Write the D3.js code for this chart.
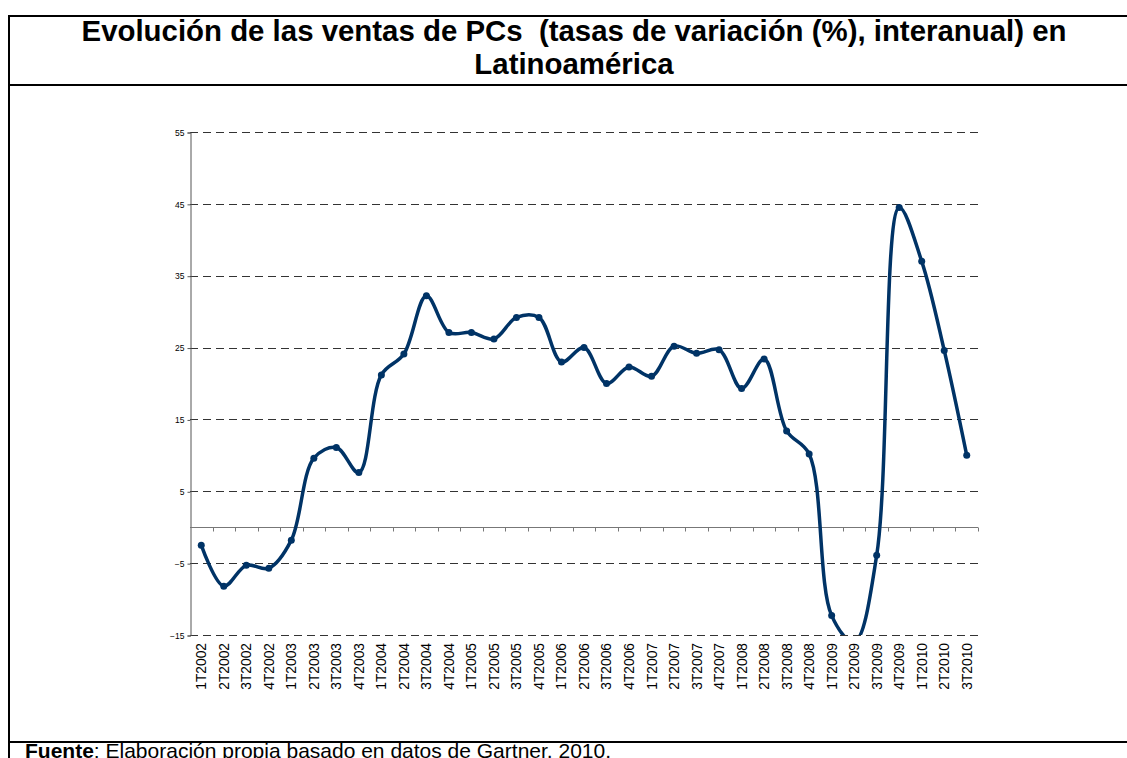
<!DOCTYPE html>
<html>
<head>
<meta charset="utf-8">
<script src="https://cdn.jsdelivr.net/npm/d3@7"></script>
<style>
  html, body { margin: 0; padding: 0; background: #fff; }
  svg { display: block; font-family: "Liberation Sans", Arial, sans-serif; }
  .title { white-space: pre; }
</style>
</head>
<body>
<svg id="chart" width="1127" height="758"></svg>
<script>
const categories = [
  "1T2002","2T2002","3T2002","4T2002",
  "1T2003","2T2003","3T2003","4T2003",
  "1T2004","2T2004","3T2004","4T2004",
  "1T2005","2T2005","3T2005","4T2005",
  "1T2006","2T2006","3T2006","4T2006",
  "1T2007","2T2007","3T2007","4T2007",
  "1T2008","2T2008","3T2008","4T2008",
  "1T2009","2T2009","3T2009","4T2009",
  "1T2010","2T2010","3T2010"
];
const values = [
  -2.5, -8.2, -5.3, -5.7,
  -1.8, 9.6, 11.1, 7.6,
  21.2, 24.1, 32.2, 27.1,
  27.1, 26.2, 29.2, 29.2,
  23.0, 25.0, 20.0, 22.3,
  21.0, 25.2, 24.2, 24.7,
  19.3, 23.4, 13.4, 10.2,
  -12.3, -16.0, -3.9, 44.5,
  37.0, 24.6, 10.0
];
const yTicks = [-15, -5, 5, 15, 25, 35, 45, 55];
const titleLines = ["Evolución de las ventas de PCs  (tasas de variación (%), interanual) en", "Latinoamérica"];
const sourceBold = "Fuente";
const sourceText = ": Elaboración propia basado en datos de Gartner, 2010.";

const svg = d3.select("#chart");
const W = 1127, H = 758;
const plot = { left: 190, right: 978, top: 132, bottom: 635 };

// Frame
const frame = svg.append("g").attr("stroke", "#000").attr("stroke-width", 2);
frame.append("line").attr("x1", 9).attr("x2", W).attr("y1", 16).attr("y2", 16);
frame.append("line").attr("x1", 9).attr("x2", W).attr("y1", 85).attr("y2", 85);
frame.append("line").attr("x1", 9).attr("x2", W).attr("y1", 742).attr("y2", 742);
frame.append("line").attr("x1", 9).attr("x2", 9).attr("y1", 15).attr("y2", H);

// Title
svg.append("g").selectAll("text").data(titleLines).join("text")
  .attr("class", "title")
  .attr("x", 574).attr("y", (d, i) => 41 + i * 33)
  .attr("text-anchor", "middle")
  .attr("font-size", 29.4).attr("font-weight", "bold").attr("fill", "#000")
  .text(d => d);

// Footer
const ft = svg.append("text").attr("x", 25).attr("y", 758).attr("font-size", 21).attr("fill", "#000");
ft.append("tspan").attr("font-weight", "bold").text(sourceBold);
ft.append("tspan").text(sourceText);

// Scales
const x = d3.scaleBand().domain(categories).range([plot.left, plot.right]).padding(0);
const y = d3.scaleLinear().domain([-15, 55]).range([plot.bottom, plot.top]);

// Gridlines
svg.append("g").selectAll("line").data(yTicks).join("line")
  .attr("x1", plot.left).attr("x2", plot.right)
  .attr("y1", d => Math.round(y(d)) + 0.5).attr("y2", d => Math.round(y(d)) + 0.5)
  .attr("stroke", "#333").attr("stroke-width", 1).attr("stroke-dasharray", "8,5");

// Y axis
const yAxis = d3.axisLeft(y).tickValues(yTicks).tickSize(3).tickPadding(3).tickFormat(d3.format("d"));
const gy = svg.append("g").attr("transform", `translate(${plot.left + 0.5},0.5)`).call(yAxis);
gy.select(".domain").attr("stroke", "#555");
gy.selectAll(".tick line").attr("stroke", "#555");
gy.selectAll(".tick text").attr("font-size", 8.5).attr("fill", "#000")
  .attr("font-family", "'Liberation Sans', Arial, sans-serif");

// Zero axis with category ticks
const bounds = categories.map(c => x(c)).concat([plot.right]);
const zeroY = Math.round(y(0)) + 0.5;
svg.append("line").attr("x1", plot.left).attr("x2", plot.right)
  .attr("y1", zeroY).attr("y2", zeroY).attr("stroke", "#777").attr("stroke-width", 1);
svg.append("g").selectAll("line").data(bounds.slice(1)).join("line")
  .attr("x1", d => Math.round(d) + 0.5).attr("x2", d => Math.round(d) + 0.5)
  .attr("y1", zeroY).attr("y2", zeroY + 4)
  .attr("stroke", "#777").attr("stroke-width", 1);

// X labels (rotated)
svg.append("g").selectAll("text").data(categories).join("text")
  .attr("transform", d => `translate(${x(d) + x.bandwidth() / 2},643) rotate(-90)`)
  .attr("text-anchor", "end").attr("dy", "0.36em")
  .attr("font-size", 13.8).attr("fill", "#000")
  .text(d => d);

// Clip
svg.append("clipPath").attr("id", "plotclip").append("rect")
  .attr("x", plot.left).attr("y", plot.top)
  .attr("width", plot.right - plot.left).attr("height", plot.bottom - plot.top);

const pts = categories.map((c, i) => ({ c, v: values[i] }));
const line = d3.line()
  .x(d => x(d.c) + x.bandwidth() / 2)
  .y(d => y(d.v))
  .curve(d3.curveCatmullRom.alpha(0.5));

const series = svg.append("g").attr("clip-path", "url(#plotclip)");
series.append("path").datum(pts).attr("d", line)
  .attr("fill", "none").attr("stroke", "#003366").attr("stroke-width", 3.5)
  .attr("stroke-linejoin", "round").attr("stroke-linecap", "round");
series.selectAll("circle").data(pts).join("circle")
  .attr("cx", d => x(d.c) + x.bandwidth() / 2)
  .attr("cy", d => y(d.v))
  .attr("r", 3.5).attr("fill", "#003366");
</script>
</body>
</html>
